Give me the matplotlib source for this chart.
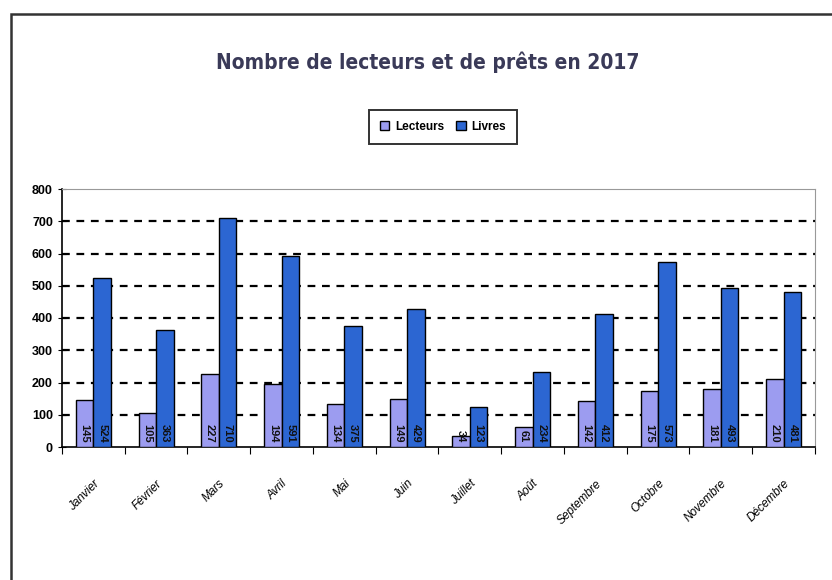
import matplotlib.pyplot as plt
import numpy as np
from matplotlib.patches import Rectangle

mois = ['Janvier', 'Février', 'Mars', 'Avril', 'Mai', 'Juin', 'Juillet',
        'Août', 'Septembre', 'Octobre', 'Novembre', 'Décembre']
lecteurs = [145, 105, 227, 194, 134, 149, 34, 61, 142, 175, 181, 210]
livres = [524, 363, 710, 591, 375, 429, 123, 234, 412, 573, 493, 481]

plt.rcParams['font.family'] = ['Liberation Sans', 'DejaVu Sans']

fig = plt.figure(figsize=(8.32, 5.8), dpi=100)

# cadre du document scanne
fig.patches.append(Rectangle((11 / 832, -0.05), 1.0, 1 - 14 / 580 + 0.05,
                             transform=fig.transFigure, fill=False,
                             edgecolor='#333333', linewidth=1.8))

ax = fig.add_axes([62 / 832, 1 - 447 / 580, (815 - 62) / 832, (447 - 189) / 580])

x = np.arange(len(mois))
w = 0.28
b1 = ax.bar(x - w / 2, lecteurs, w, color='#9c9cf0', edgecolor='black',
            linewidth=1.0, label='Lecteurs', zorder=3)
b2 = ax.bar(x + w / 2, livres, w, color='#2c66d2', edgecolor='black',
            linewidth=1.0, label='Livres', zorder=3)

for rect, v in list(zip(b1, lecteurs)) + list(zip(b2, livres)):
    ax.text(rect.get_x() + rect.get_width() / 2, 14, str(v), rotation=270,
            ha='center', va='bottom', fontsize=8, fontweight='bold',
            color='#111111', zorder=4)

ax.set_xlim(-0.5, len(mois) - 0.5)
ax.set_ylim(0, 800)
ax.set_yticks(range(0, 801, 100))
ax.set_xticks(np.arange(len(mois) + 1) - 0.5)
ax.set_xticklabels([])
ax.set_xticks(x, minor=True)
ax.set_xticklabels(mois, minor=True, rotation=45, ha='right',
                   rotation_mode='anchor', fontsize=8.5, style='italic')
ax.tick_params(axis='x', which='minor', length=0, pad=22)
ax.tick_params(axis='x', which='major', length=5, direction='out')
ax.tick_params(axis='y', length=6, direction='inout', labelsize=9)
for lab in ax.get_yticklabels():
    lab.set_fontweight('bold')

for yv in range(100, 800, 100):
    ax.axhline(yv, color='black', linestyle=(0, (3.5, 3)), linewidth=1.6, zorder=1)

ax.spines['left'].set_linewidth(1.2)
ax.spines['bottom'].set_linewidth(1.2)
ax.spines['top'].set_color('#999999')
ax.spines['right'].set_color('#999999')

fig.text(428 / 832, 1 - 62 / 580, 'Nombre de lecteurs et de prêts en 2017',
         ha='center', va='center', fontsize=15, fontweight='bold',
         fontstretch='condensed', color='#3a3a58',
         family=['DejaVu Sans'])

leg = fig.legend(handles=[b1, b2], loc='center', bbox_to_anchor=(443 / 832, 1 - 127 / 580),
                 ncol=2, fontsize=8.5, frameon=True, fancybox=False,
                 handlelength=0.8, handleheight=0.8, handletextpad=0.5,
                 columnspacing=1.0, borderpad=0.9, borderaxespad=0)
leg.get_frame().set_edgecolor('black')
leg.get_frame().set_linewidth(1.4)
for t in leg.get_texts():
    t.set_fontweight('bold')

fig.savefig('out.png', dpi=100)
